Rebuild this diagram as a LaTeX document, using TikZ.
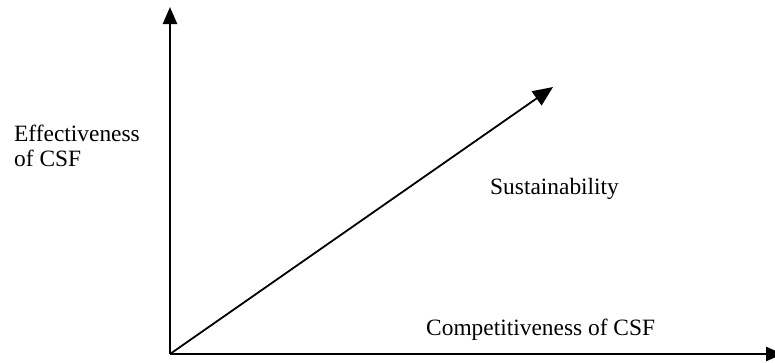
\documentclass[tikz,border=0pt]{standalone}
\usepackage{fontspec}
\setmainfont{Liberation Serif}
\usetikzlibrary{arrows.meta}
\begin{document}
\begin{tikzpicture}[x=1pt,y=-1pt,
  axis/.style={line width=2.4pt,-{Triangle[length=17pt,width=14pt]}},
  diag/.style={line width=1.8pt,-{Triangle[length=20pt,width=17pt]}},
  lbl/.style={anchor=base west,inner sep=0pt,font=\fontsize{23.4}{25}\selectfont}]
\useasboundingbox (0,0) rectangle (775,362);
\coordinate (O) at (170,354);
\coordinate (Ytop) at (170,7);
\coordinate (Xend) at (783,354);
\coordinate (D) at (553,87);
\draw[axis] (O) -- (Ytop);
\draw[axis] (O) -- (Xend);
\draw[diag] (O) -- (D);
\node[lbl] (eff) at (14,141) {Effectiveness};
\node[lbl] (ofcsf) at (14,166) {of CSF};
\node[lbl] (sus) at (490,194) {Sustainability};
\node[lbl] (comp) at (426,335) {Competitiveness of CSF};
\end{tikzpicture}
\end{document}
